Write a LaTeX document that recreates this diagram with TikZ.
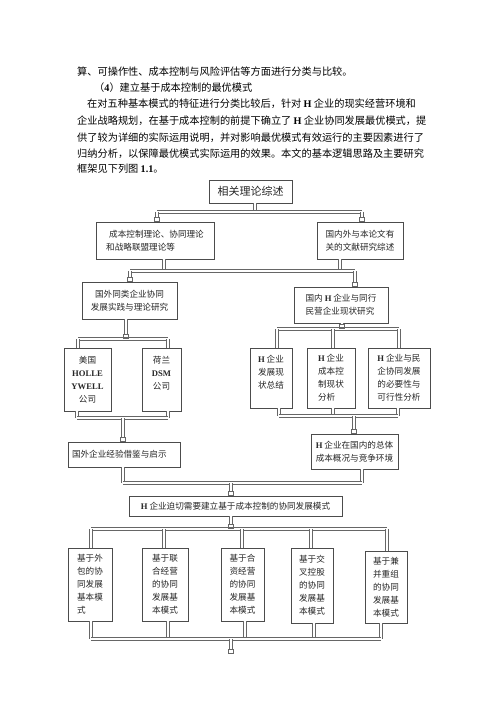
\documentclass[tikz,border=0pt]{standalone}
\usepackage{fontspec}
\setmainfont{Noto Sans CJK SC}
\newfontfamily\latf{Liberation Serif}
\newcommand\lt[1]{{\latf\bfseries #1}}
\usetikzlibrary{arrows.meta}
\begin{document}
\begin{tikzpicture}[x=1pt,y=-1pt,
  txt/.style={anchor=west, inner sep=0pt, font=\fontsize{10.2pt}{12pt}\selectfont},
  box/.style={draw=black!70, line width=0.8pt, fill=white, inner sep=0pt, align=left,
    text=black!85, font=\fontsize{8.6pt}{13pt}\selectfont},
  pipe/.style={draw=black!60, line width=0.8pt, double=white, double distance=1.6pt},
  tip/.style={-{Rectangle[open,length=5pt,width=5.5pt]}}
]
\useasboundingbox[fill=white] (0,0) rectangle (500,708);
% body text
\node[txt] (t1) at (77,72) {算、可操作性、成本控制与风险评估等方面进行分类与比较。};
\node[txt] (t2) at (94,87.3) {（\lt{4}）建立基于成本控制的最优模式};
\node[txt] (t3) at (87,103.3) {在对五种基本模式的特征进行分类比较后，针对 \lt{H} 企业的现实经营环境和};
\node[txt] (t4) at (77,120.7) {企业战略规划，在基于成本控制的前提下确立了 \lt{H} 企业协同发展最优模式，提};
\node[txt] (t5) at (77,137.3) {供了较为详细的实际运用说明，并对影响最优模式有效运行的主要因素进行了};
\node[txt] (t6) at (77,153.3) {归纳分析，以保障最优模式实际运用的效果。本文的基本逻辑思路及主要研究};
\node[txt] (t7) at (77,169) {框架见下列图 \lt{1.1}。};
% bus coordinates
\coordinate (b1a) at (157,212); \coordinate (b1b) at (255,212); \coordinate (b1c) at (362,212);
\coordinate (b2a) at (130,271); \coordinate (b2b) at (164,271); \coordinate (b2c) at (340,271); \coordinate (b2d) at (355,271);
\coordinate (b3a) at (78,339); \coordinate (b3b) at (126,339); \coordinate (b3c) at (168,339);
\coordinate (b4a) at (277,329); \coordinate (b4b) at (333,329); \coordinate (b4c) at (342,329); \coordinate (b4d) at (399,329);
\coordinate (b5a) at (77,418); \coordinate (b5b) at (123,418); \coordinate (b5c) at (168,418);
\coordinate (b6a) at (279,416); \coordinate (b6b) at (333,416); \coordinate (b6c) at (354,416); \coordinate (b6d) at (398,416);
\coordinate (b7a) at (123,483); \coordinate (b7b) at (231,483); \coordinate (b7c) at (362,483);
\coordinate (b8a) at (91,529); \coordinate (b8b) at (164,529); \coordinate (b8c) at (231,529);
\coordinate (b8d) at (242,529); \coordinate (b8e) at (311,529); \coordinate (b8f) at (387,529);
\coordinate (b9a) at (91,639); \coordinate (b9b) at (168,639); \coordinate (b9c) at (231,639);
\coordinate (b9d) at (245,639); \coordinate (b9e) at (314,639); \coordinate (b9f) at (381,639);
\coordinate (fin) at (231,654);
% boxes
\node[box, minimum width=83pt, minimum height=23pt, font=\fontsize{11pt}{13pt}\selectfont] (top) at (250.5,191.5) {相关理论综述};
\node[box, minimum width=118pt, minimum height=37pt] (A) at (155,240.5) {\hspace{3pt}成本控制理论、协同理论\\和战略联盟理论等};
\node[box, minimum width=86pt, minimum height=37pt] (B) at (360,240.5) {国内外与本论文有\\关的文献研究综述};
\node[box, minimum width=95pt, minimum height=37pt, align=center] (C) at (129.5,300.5) {国外同类企业协同\\发展实践与理论研究};
\node[box, minimum width=94pt, minimum height=36pt] (D) at (341,305) {国内 \lt{H} 企业与同行\\民营企业现状研究};
\node[box, minimum width=47pt, minimum height=63pt, align=center] (E) at (87.5,379.5) {美国\\\lt{HOLLE}\\\lt{YWELL}\\公司};
\node[box, minimum width=39pt, minimum height=63pt, align=center] (F) at (161.5,379.5) {荷兰\\\lt{DSM}\\公司\\\mbox{}};
\node[box, minimum width=42pt, minimum height=60pt] (G) at (271,378) {\lt{H} 企业\\发展现\\状总结\\\mbox{}};
\node[box, minimum width=48pt, minimum height=60pt] (Hh) at (331,378) {\lt{H} 企业\\成本控\\制现状\\分析};
\node[box, minimum width=62pt, minimum height=60pt] (I) at (399,378) {\lt{H} 企业与民\\企协同发展\\的必要性与\\可行性分析};
\node[box, minimum width=112pt, minimum height=25pt, text width=104pt] (J) at (124,454.5) {国外企业经验借鉴与启示};
\node[box, minimum width=87pt, minimum height=35pt] (K) at (354.5,451.5) {\lt{H} 企业在国内的总体\\成本概况与竞争环境};
\node[box, minimum width=213pt, minimum height=20pt] (L) at (235.5,506) {\lt{H} 企业迫切需要建立基于成本控制的协同发展模式};
\node[box, minimum width=44pt, minimum height=73pt] (M1) at (90,584.5) {基于外\\包的协\\同发展\\基本模\\式\hspace{17.2pt}};
\node[box, minimum width=46pt, minimum height=73pt] (M2) at (165,584.5) {基于联\\合经营\\的协同\\发展基\\本模式};
\node[box, minimum width=43pt, minimum height=73pt] (M3) at (242.5,584.5) {基于合\\资经营\\的协同\\发展基\\本模式};
\node[box, minimum width=42pt, minimum height=75pt] (M4) at (312,585.5) {基于交\\叉控股\\的协同\\发展基\\本模式};
\node[box, minimum width=42pt, minimum height=72pt] (M5) at (386,587) {基于兼\\并重组\\的协同\\发展基\\本模式};
% connectors
\draw[pipe] (b1b |- top.south) -- (b1b);
\draw[pipe] (b1a) -- (b1c);
\draw[pipe,tip] (b1a) -- (b1a |- A.north);
\draw[pipe,tip] (b1c) -- (b1c |- B.north);
\draw[pipe] (b2b |- A.south) -- (b2b);
\draw[pipe] (b2c |- B.south) -- (b2c);
\draw[pipe] (b2a) -- (b2d);
\draw[pipe,tip] (b2a) -- (b2a |- C.north);
\draw[pipe,tip] (b2d) -- (b2d |- D.north);
\draw[pipe] (b3a) -- (b3c);
\draw[pipe,tip] (b3b |- C.south) -- (b3b);
\draw[pipe] (b3a) -- (b3a |- E.north);
\draw[pipe] (b3c) -- (b3c |- F.north);
\draw[pipe] (b4a) -- (b4d);
\draw[pipe,tip] (b4c |- D.south) -- (b4c);
\draw[pipe] (b4a) -- (b4a |- G.north);
\draw[pipe] (b4b) -- (b4b |- Hh.north);
\draw[pipe] (b4d) -- (b4d |- I.north);
\draw[pipe] (b5a |- E.south) -- (b5a);
\draw[pipe] (b5c |- F.south) -- (b5c);
\draw[pipe] (b5a) -- (b5c);
\draw[pipe,tip] (b5b) -- (b5b |- J.north);
\draw[pipe] (b6a |- G.south) -- (b6a);
\draw[pipe] (b6b |- Hh.south) -- (b6b);
\draw[pipe] (b6d |- I.south) -- (b6d);
\draw[pipe] (b6a) -- (b6d);
\draw[pipe,tip] (b6c) -- (b6c |- K.north);
\draw[pipe] (b7a |- J.south) -- (b7a);
\draw[pipe] (b7c |- K.south) -- (b7c);
\draw[pipe] (b7a) -- (b7c);
\draw[pipe,tip] (b7b) -- (b7b |- L.north);
\draw[pipe] (b8a) -- (b8f);
\draw[pipe,tip] (b8c |- L.south) -- (b8c);
\draw[pipe] (b8a) -- (b8a |- M1.north);
\draw[pipe] (b8b) -- (b8b |- M2.north);
\draw[pipe] (b8d) -- (b8d |- M3.north);
\draw[pipe] (b8e) -- (b8e |- M4.north);
\draw[pipe] (b8f) -- (b8f |- M5.north);
\draw[pipe] (b9a |- M1.south) -- (b9a);
\draw[pipe] (b9b |- M2.south) -- (b9b);
\draw[pipe] (b9d |- M3.south) -- (b9d);
\draw[pipe] (b9e |- M4.south) -- (b9e);
\draw[pipe] (b9f |- M5.south) -- (b9f);
\draw[pipe] (b9a) -- (b9f);
\draw[pipe,tip] (b9c) -- (fin);
\end{tikzpicture}
\end{document}
